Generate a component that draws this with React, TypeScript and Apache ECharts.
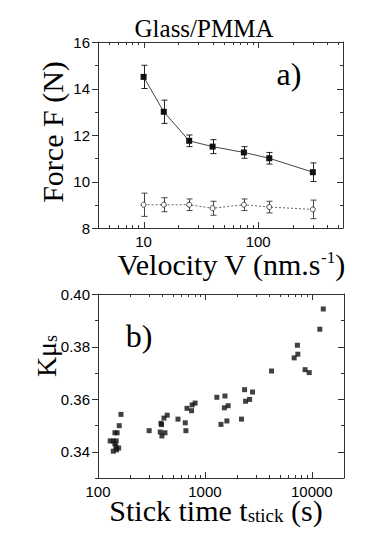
import { useEffect, useRef } from "react";
import * as echarts from "echarts";

// ---- Panel a) : Force vs velocity ----
const velocity = [10, 15, 25, 40, 75, 125, 300];
const forceStatic = [14.5, 13.0, 11.75, 11.5, 11.25, 11.0, 10.4];
const forceStaticErr = [0.5, 0.5, 0.25, 0.3, 0.25, 0.25, 0.4];
const forceDynamic = [9.0, 9.0, 9.0, 8.85, 9.0, 8.9, 8.8];
const forceDynamicErr = [0.5, 0.3, 0.25, 0.3, 0.25, 0.25, 0.4];

// ---- Panel b) : K mu_s vs stick time ----
const stickTime = [
  130, 139, 148, 144, 151, 147, 139, 149, 156, 144, 158, 164,
  301, 388, 393, 382, 396, 423, 414, 444,
  560, 655, 664, 680, 750, 760, 810,
  1294, 1413, 1540, 1520, 1650, 1605, 2200, 2350, 2400, 2620, 2790,
  4200, 6840, 7400, 7330, 8650, 9460, 11880, 12800,
];
const kMuS = [
  0.3441, 0.3441, 0.3441, 0.3472, 0.3472, 0.3419, 0.3402, 0.3407, 0.3414, 0.343, 0.3499, 0.3542,
  0.348, 0.3508, 0.3503, 0.3475, 0.346, 0.3472, 0.3528, 0.3539,
  0.3524, 0.351, 0.348, 0.3565, 0.3556, 0.3578, 0.3585,
  0.3607, 0.3504, 0.3612, 0.3567, 0.3575, 0.3517, 0.3524, 0.3636, 0.3592, 0.3599, 0.3627,
  0.3707, 0.3757, 0.3771, 0.3805, 0.3712, 0.3701, 0.3866, 0.3943,
];

// ---- Axis ranges & ticks ----
const aXRange = [4, 550];
const aYRange = [8, 16];
const aXMajor = [10, 100];
const aXMinor = [4, 5, 6, 7, 8, 9, 20, 30, 40, 50, 60, 70, 80, 90, 200, 300, 400, 500];
const aYMajor = [8, 10, 12, 14, 16];
const aYMinor = [9, 11, 13, 15];

const bXRange = [100, 20000];
const bYRange = [0.33, 0.4];
const bXMajor = [100, 1000, 10000];
const bXMinor = [200, 300, 400, 500, 600, 700, 800, 900, 2000, 3000, 4000, 5000, 6000, 7000, 8000, 9000, 20000];
const bYMajor = [0.34, 0.36, 0.38, 0.4];
const bYMinor = [0.33, 0.35, 0.37, 0.39];

const AXIS = "#333";
const SERIF = '"Liberation Serif", "Times New Roman", serif';
const SANS = '"Liberation Sans", Arial, sans-serif';

function frameTicks(
  xr: number[], yr: number[],
  xMaj: number[], xMin: number[], yMaj: number[], yMin: number[]
) {
  return (params: any, api: any) => {
    const children: any[] = [];
    const add = (x1: number, y1: number, x2: number, y2: number) =>
      children.push({ type: "line", shape: { x1, y1, x2, y2 }, style: { stroke: AXIS, lineWidth: 1 } });
    const xt = (v: number, len: number) => {
      const b = api.coord([v, yr[0]]);
      const t = api.coord([v, yr[1]]);
      const x = Math.round(b[0]) + 0.5;
      add(x, b[1], x, b[1] - len);
      add(x, t[1], x, t[1] + len);
    };
    const yt = (v: number, len: number) => {
      const l = api.coord([xr[0], v]);
      const r = api.coord([xr[1], v]);
      const y = Math.round(l[1]) + 0.5;
      add(l[0], y, l[0] - len, y); // outward on the left
      add(r[0], y, r[0] - len, y); // inward on the right
    };
    xMaj.forEach((v) => xt(v, 6));
    xMin.forEach((v) => xt(v, 3));
    yMaj.forEach((v) => yt(v, 6));
    yMin.forEach((v) => yt(v, 3));
    return { type: "group", children };
  };
}

function errorBars(color: string) {
  return (params: any, api: any) => {
    const x = api.value(0);
    const lo = api.coord([x, api.value(1)]);
    const hi = api.coord([x, api.value(2)]);
    const cx = Math.round(lo[0]) + 0.5;
    const st = { stroke: color, lineWidth: 1 };
    return {
      type: "group",
      children: [
        { type: "line", shape: { x1: cx, y1: lo[1], x2: cx, y2: hi[1] }, style: st },
        { type: "line", shape: { x1: cx - 3, y1: lo[1], x2: cx + 3, y2: lo[1] }, style: st },
        { type: "line", shape: { x1: cx - 3, y1: hi[1], x2: cx + 3, y2: hi[1] }, style: st },
      ],
    };
  };
}

const logLabel = (v: number) => {
  const l = Math.log10(v);
  return Math.abs(l - Math.round(l)) < 1e-6 ? String(Math.round(v)) : "";
};

function txt(x: number, y: number, text: string, fontSize: number, extra: any = {}) {
  return {
    type: "text",
    x,
    y,
    rotation: extra.rotation || 0,
    style: {
      text,
      fontSize,
      fontFamily: SERIF,
      fill: "#000",
      align: "center",
      verticalAlign: "middle",
      textAlign: "center",
      textVerticalAlign: "middle",
      rich: extra.rich,
    },
  };
}

export default function App() {
  const ref = useRef<HTMLDivElement>(null);
  useEffect(() => {
    if (!ref.current) return;
    const chart = echarts.init(ref.current, null, { renderer: "svg" });

    const xBase = (grid: number, range: number[], pos: string, labels: boolean) => ({
      type: "log",
      gridIndex: grid,
      position: pos,
      min: range[0],
      max: range[1],
      logBase: 10,
      axisLine: { show: true, onZero: false, lineStyle: { color: AXIS, width: 1 } },
      axisTick: { show: false },
      splitLine: { show: false },
      axisLabel: labels
        ? { show: true, formatter: logLabel, fontSize: 15, fontFamily: SANS, color: "#000", margin: 6, showMinLabel: true, showMaxLabel: true }
        : { show: false },
    });
    const yBase = (grid: number, range: number[], interval: number, pos: string, labels: boolean, fmt: any) => ({
      type: "value",
      gridIndex: grid,
      position: pos,
      min: range[0],
      max: range[1],
      interval,
      axisLine: { show: true, onZero: false, lineStyle: { color: AXIS, width: 1 } },
      axisTick: { show: false },
      splitLine: { show: false },
      axisLabel: labels
        ? { show: true, formatter: fmt, fontSize: 15, fontFamily: SANS, color: "#000", margin: 8 }
        : { show: false },
    });

    chart.setOption({
      animation: false,
      backgroundColor: "#fff",
      grid: [
        { left: 98, top: 42, width: 245, height: 186 },
        { left: 98, top: 294, width: 246, height: 184 },
      ],
      xAxis: [
        xBase(0, aXRange, "bottom", true),
        xBase(0, aXRange, "top", false),
        xBase(1, bXRange, "bottom", true),
        xBase(1, bXRange, "top", false),
      ],
      yAxis: [
        yBase(0, aYRange, 2, "left", true, (v: number) => String(Math.round(v))),
        yBase(0, aYRange, 2, "right", false, null),
        yBase(1, bYRange, 0.01, "left", true, (v: number) => {
          const h = Math.round(v * 100);
          return h % 2 === 0 ? (h / 100).toFixed(2) : "";
        }),
        yBase(1, bYRange, 0.01, "right", false, null),
      ],
      series: [
        {
          type: "custom",
          xAxisIndex: 0,
          yAxisIndex: 0,
          renderItem: frameTicks(aXRange, aYRange, aXMajor, aXMinor, aYMajor, aYMinor),
          data: [[aXRange[0], aYRange[0]]],
          silent: true,
          z: 1,
        },
        {
          type: "custom",
          xAxisIndex: 2,
          yAxisIndex: 2,
          renderItem: frameTicks(bXRange, bYRange, bXMajor, bXMinor, bYMajor, bYMinor),
          data: [[bXRange[0], bYRange[0]]],
          silent: true,
          z: 1,
        },
        {
          type: "custom",
          xAxisIndex: 0,
          yAxisIndex: 0,
          renderItem: errorBars("#222"),
          data: velocity.map((v, i) => [v, forceStatic[i] - forceStaticErr[i], forceStatic[i] + forceStaticErr[i]]),
          z: 2,
        },
        {
          type: "custom",
          xAxisIndex: 0,
          yAxisIndex: 0,
          renderItem: errorBars("#444"),
          data: velocity.map((v, i) => [v, forceDynamic[i] - forceDynamicErr[i], forceDynamic[i] + forceDynamicErr[i]]),
          z: 2,
        },
        {
          type: "line",
          xAxisIndex: 0,
          yAxisIndex: 0,
          data: velocity.map((v, i) => [v, forceStatic[i]]),
          symbol: "rect",
          symbolSize: 6,
          showAllSymbol: true,
          itemStyle: { color: "#111" },
          lineStyle: { color: "#444", width: 1 },
          z: 3,
        },
        {
          type: "line",
          xAxisIndex: 0,
          yAxisIndex: 0,
          data: velocity.map((v, i) => [v, forceDynamic[i]]),
          symbol: "circle",
          symbolSize: 5,
          showAllSymbol: true,
          itemStyle: { color: "#fff", borderColor: "#444", borderWidth: 1 },
          lineStyle: { color: "#666", width: 1, type: [2, 2] },
          z: 3,
        },
        {
          type: "scatter",
          xAxisIndex: 2,
          yAxisIndex: 2,
          data: stickTime.map((t, i) => [t, kMuS[i]]),
          symbol: "rect",
          symbolSize: 5,
          itemStyle: { color: "#111" },
          z: 3,
        },
      ],
      graphic: [
        txt(204, 28, "Glass/PMMA", 25),
        txt(289, 74, "a)", 32),
        txt(139, 336, "b)", 32),
        txt(52, 132, "Force F (N)", 30, { rotation: Math.PI / 2 }),
        txt(231, 264, "{n|Velocity V (nm.s}{sup|-1}{n|)}", 30, {
          rich: {
            n: { fontSize: 30, fontFamily: SERIF, lineHeight: 30, verticalAlign: "middle" },
            sup: { fontSize: 17, fontFamily: SERIF, lineHeight: 16, verticalAlign: "top" },
          },
        }),
        txt(216, 510, "{n|Stick time t}{sub|stick}{n| (s)}", 30, {
          rich: {
            n: { fontSize: 30, fontFamily: SERIF, lineHeight: 30, verticalAlign: "middle" },
            sub: { fontSize: 19, fontFamily: SERIF, lineHeight: 12, verticalAlign: "bottom" },
          },
        }),
        txt(46, 356, "{n|Kμ}{sub|s}", 28, {
          rotation: Math.PI / 2,
          rich: {
            n: { fontSize: 28, fontFamily: SERIF, lineHeight: 28, verticalAlign: "middle" },
            sub: { fontSize: 18, fontFamily: SERIF, lineHeight: 12, verticalAlign: "bottom" },
          },
        }),
      ],
    });
    return () => chart.dispose();
  }, []);
  return (
    <div
      ref={ref}
      style={{ position: "fixed", left: 0, top: 0, width: 382, height: 540, background: "#fff" }}
    />
  );
}
